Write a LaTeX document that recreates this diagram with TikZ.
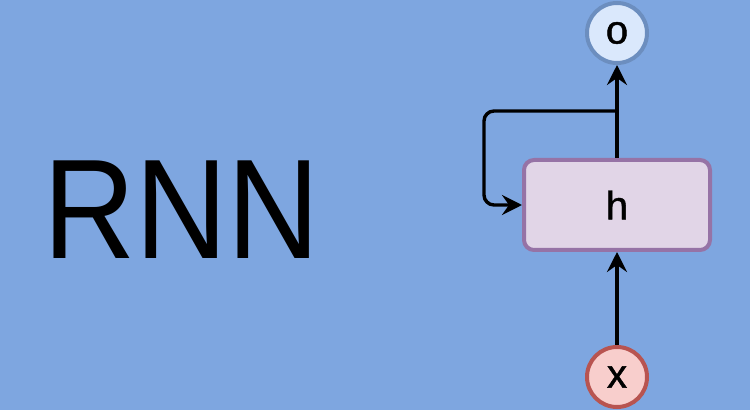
\documentclass[tikz,border=0pt]{standalone}
\usepackage{fontspec}
\setmainfont{Liberation Sans}
\usetikzlibrary{shapes, arrows.meta, positioning}
\definecolor{bgblue}{HTML}{7EA6E0}
\definecolor{hfill}{HTML}{E1D5E7}
\definecolor{hline}{HTML}{9673A6}
\definecolor{ofill}{HTML}{DAE8FC}
\definecolor{oline}{HTML}{6C8EBF}
\definecolor{xfill}{HTML}{F8CECC}
\definecolor{xline}{HTML}{B85450}

\begin{document}
\begin{tikzpicture}[x=1pt, y=1pt,
    >={Stealth[length=20pt, width=20pt, inset=7pt]},
    cell/.style={draw=hline, fill=hfill, line width=4pt, rectangle, rounded corners=10pt,
                 minimum width=186pt, minimum height=90pt,
                 font=\fontsize{40}{46}\selectfont\addfontfeature{FakeBold=1.2}},
    unit/.style={circle, line width=4pt, minimum size=60pt, inner sep=0pt,
                 font=\fontsize{40}{46}\selectfont\addfontfeature{FakeBold=1.2}},
    link/.style={->, line width=3.4pt}]
    % background
    \fill[bgblue] (0,0) rectangle (750,410);
    \useasboundingbox (0,0) rectangle (750,410);

    % title
    \node (title) at (181.5,200) {\fontsize{142}{150}\selectfont\addfontfeature{FakeStretch=0.9}RNN};

    % network
    \node[cell] (h) at (617,205) {h};
    \node[unit, draw=oline, fill=ofill] (o) at (617,377) {o};
    \node[unit, draw=xline, fill=xfill] (x) at (617,33) {x};
    \coordinate (split) at (617,299);

    \draw[link] (x) -- (h);
    \draw[link] (h) -- (o);
    \draw[link, rounded corners=10pt] (split) -| ([xshift=-38pt]h.west) -- (h.west);
\end{tikzpicture}
\end{document}
